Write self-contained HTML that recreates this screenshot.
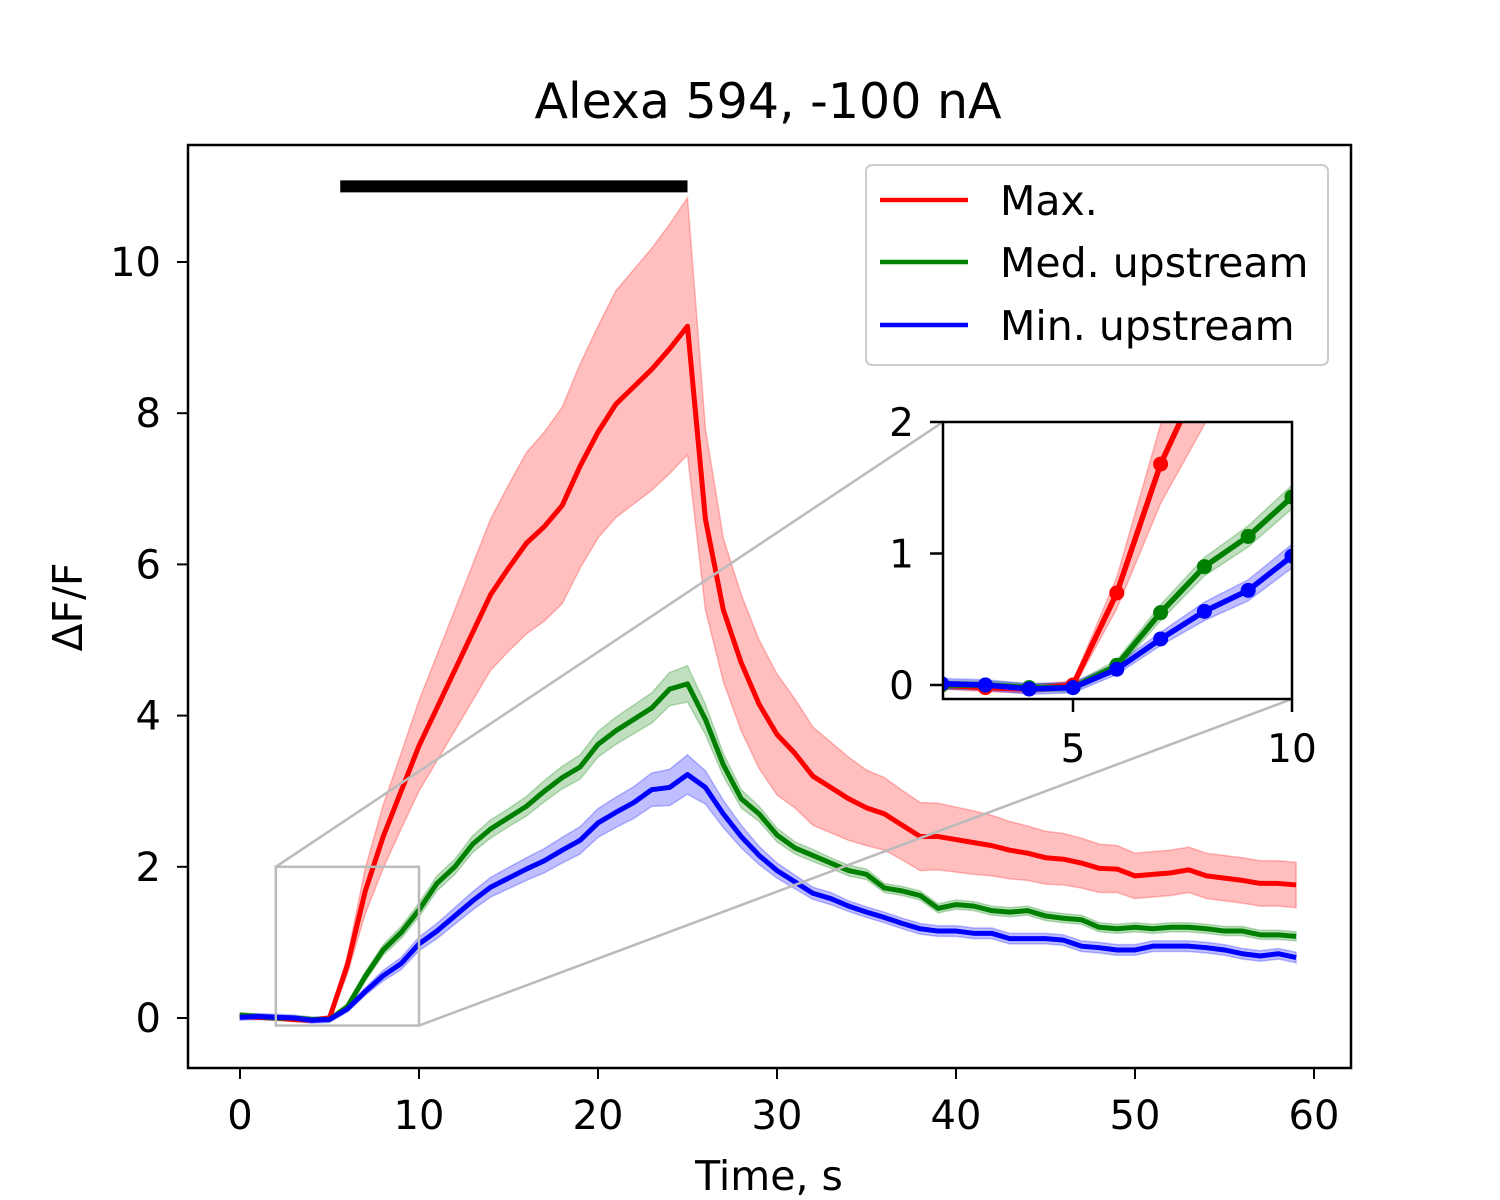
<!DOCTYPE html>
<html><head><meta charset="utf-8"><style>
html,body{margin:0;padding:0;background:#fff;}
svg{display:block;font-family:"DejaVu Sans","Liberation Sans",sans-serif;}
</style></head><body>
<svg id="chart" width="1500" height="1200" viewBox="0 0 1500 1200" xmlns="http://www.w3.org/2000/svg">
<rect width="1500" height="1200" fill="#fff"/>
<defs>
<clipPath id="mainClip"><rect x="188" y="145" width="1163" height="923"/></clipPath>
<clipPath id="insetClip"><rect x="943" y="422" width="349" height="277"/></clipPath>
</defs>
<text x="768" y="118" font-size="49" text-anchor="middle">Alexa 594, -100 nA</text>
<g id="main" clip-path="url(#mainClip)"></g>
<g id="mainAxes"></g>
<g id="connectors"></g>
<rect x="943" y="422" width="349" height="277" fill="#fff"/>
<g id="inset" clip-path="url(#insetClip)"></g>
<g id="insetAxes"></g>
<g id="legend">
<rect x="866" y="165" width="462" height="200" rx="6" fill="#fff" fill-opacity="0.8" stroke="#ccc" stroke-width="2"/>
<line x1="880" y1="200" x2="968" y2="200" stroke="#f00" stroke-width="4.5"/>
<text x="1000" y="215" font-size="41">Max.</text>
<line x1="880" y1="262" x2="968" y2="262" stroke="#008000" stroke-width="4.5"/>
<text x="1000" y="277" font-size="41">Med. upstream</text>
<line x1="880" y1="325" x2="968" y2="325" stroke="#00f" stroke-width="4.5"/>
<text x="1000" y="340" font-size="41">Min. upstream</text>
</g>
<text x="769" y="1190" font-size="41" text-anchor="middle">Time, s</text>
<text x="82" y="607" font-size="41" text-anchor="middle" transform="rotate(-90 82 607)">ΔF/F</text>
</svg>
<script>
const times = Array.from({length:60},(_,i)=>i);
const maxVals = [0.02,0.01,0,-0.02,-0.03,0,0.7,1.68,2.4,3.0,3.6,4.1,4.6,5.1,5.6,5.95,6.28,6.5,6.78,7.3,7.75,8.12,8.35,8.58,8.85,9.15,6.6,5.4,4.7,4.15,3.75,3.5,3.2,3.05,2.9,2.78,2.7,2.55,2.4,2.4,2.36,2.32,2.28,2.22,2.18,2.12,2.1,2.05,1.98,1.97,1.88,1.9,1.92,1.96,1.88,1.85,1.82,1.78,1.78,1.76];
const maxErr = [0.03,0.03,0.03,0.03,0.03,0.03,0.12,0.3,0.42,0.5,0.6,0.7,0.8,0.9,1.0,1.1,1.2,1.25,1.3,1.35,1.4,1.5,1.55,1.6,1.65,1.7,1.2,0.95,0.9,0.85,0.8,0.72,0.65,0.6,0.55,0.5,0.48,0.46,0.45,0.44,0.43,0.42,0.4,0.38,0.36,0.35,0.34,0.33,0.32,0.31,0.3,0.3,0.3,0.3,0.3,0.3,0.3,0.3,0.3,0.3];
const medVals = [0.04,0.02,0.0,0.0,-0.02,-0.02,0.15,0.55,0.9,1.13,1.43,1.78,2.0,2.3,2.5,2.65,2.8,3.0,3.18,3.32,3.62,3.8,3.95,4.1,4.35,4.42,3.95,3.35,2.9,2.7,2.42,2.25,2.15,2.05,1.95,1.9,1.72,1.68,1.62,1.45,1.5,1.48,1.42,1.4,1.42,1.35,1.32,1.3,1.2,1.18,1.2,1.18,1.2,1.2,1.18,1.15,1.15,1.1,1.1,1.08];
const medErr = [0.03,0.03,0.03,0.03,0.03,0.03,0.04,0.06,0.07,0.08,0.09,0.1,0.1,0.11,0.12,0.12,0.13,0.14,0.15,0.16,0.17,0.18,0.19,0.2,0.22,0.24,0.2,0.15,0.12,0.1,0.09,0.08,0.08,0.07,0.07,0.07,0.06,0.06,0.06,0.06,0.06,0.06,0.06,0.06,0.06,0.06,0.06,0.06,0.06,0.06,0.06,0.06,0.06,0.06,0.06,0.06,0.06,0.06,0.06,0.06];
const minVals = [0.01,0.02,0.01,0.0,-0.03,-0.02,0.12,0.35,0.56,0.72,0.98,1.15,1.35,1.55,1.73,1.85,1.97,2.08,2.22,2.35,2.58,2.72,2.85,3.02,3.05,3.22,3.05,2.7,2.4,2.15,1.95,1.8,1.65,1.58,1.48,1.4,1.33,1.25,1.18,1.15,1.15,1.12,1.12,1.05,1.05,1.05,1.03,0.95,0.93,0.9,0.9,0.95,0.95,0.95,0.93,0.9,0.85,0.82,0.85,0.8];
const minErr = [0.04,0.04,0.04,0.04,0.04,0.04,0.04,0.05,0.07,0.08,0.09,0.1,0.11,0.12,0.13,0.14,0.15,0.16,0.17,0.18,0.19,0.2,0.21,0.22,0.24,0.26,0.22,0.18,0.15,0.12,0.1,0.09,0.08,0.08,0.07,0.07,0.07,0.07,0.07,0.07,0.07,0.07,0.07,0.07,0.07,0.07,0.07,0.07,0.07,0.07,0.07,0.07,0.07,0.07,0.07,0.07,0.07,0.07,0.07,0.07];
const xTicks = [0,10,20,30,40,50,60];
const yTicks = [0,2,4,6,8,10];
const insetXTicks = [5,10];
const insetYTicks = [0,1,2];
const stimulus = [5.6,25.0,11.0];

const NS="http://www.w3.org/2000/svg";
function mk(tag,attrs,parent){const e=document.createElementNS(NS,tag);for(const k in attrs)e.setAttribute(k,attrs[k]);parent.appendChild(e);return e;}
const X=v=>240+v*17.9, Y=v=>1018-v*75.6;
const IX=v=>1073+(v-5)*43.8, IY=v=>685-v*131.5;
const series=[{v:maxVals,e:maxErr,c:"#ff0000",n:"max"},{v:medVals,e:medErr,c:"#008000",n:"med-upstream"},{v:minVals,e:minErr,c:"#0000ff",n:"min-upstream"}];

function draw(g,fx,fy,lw,markers){
  series.forEach(s=>{
    let up=times.map((t,i)=>fx(t)+","+fy(s.v[i]+s.e[i]));
    let lo=times.map((t,i)=>fx(t)+","+fy(s.v[i]-s.e[i])).reverse();
    const band=mk("polygon",{points:up.concat(lo).join(" "),fill:s.c,"fill-opacity":0.25,stroke:s.c,"stroke-opacity":0.25,"stroke-width":1.5},g);
    
    
  });
  series.forEach(s=>{
    const line=mk("polyline",{points:times.map((t,i)=>fx(t)+","+fy(s.v[i])).join(" "),fill:"none",stroke:s.c,"stroke-width":lw,"stroke-linejoin":"round"},g);
    
    
    if(markers){times.forEach((t,i)=>{if(t>=2&&t<=10){const p=mk("circle",{cx:fx(t),cy:fy(s.v[i]),r:7.5,fill:s.c},g);
      
      }});}
  });
}
const main=document.getElementById("main");
draw(main,X,Y,5,false);
const bar=mk("line",{x1:X(stimulus[0]),x2:X(stimulus[1]),y1:Y(stimulus[2]),y2:Y(stimulus[2]),stroke:"#000","stroke-width":12},main);



const ax=document.getElementById("mainAxes");
const frame=mk("rect",{x:188,y:145,width:1163,height:923,fill:"none",stroke:"#000","stroke-width":2.5},ax);


xTicks.forEach(t=>{mk("line",{x1:X(t),x2:X(t),y1:1068,y2:1079,stroke:"#000","stroke-width":2},ax);
  const tx=mk("text",{x:X(t),y:1129,"font-size":40,"text-anchor":"middle"},ax);tx.textContent=t;
  
  });
yTicks.forEach(t=>{mk("line",{x1:177,x2:188,y1:Y(t),y2:Y(t),stroke:"#000","stroke-width":2},ax);
  const tx=mk("text",{x:161,y:Y(t)+14,"font-size":40,"text-anchor":"end"},ax);tx.textContent=t;
  
  });

const con=document.getElementById("connectors");
const zr=mk("rect",{x:X(2),y:Y(2),width:X(10)-X(2),height:Y(-0.1)-Y(2),fill:"none",stroke:"#bbb","stroke-width":2.5},con);


const c1=mk("line",{x1:X(2),y1:Y(2),x2:943,y2:422,stroke:"#bbb","stroke-width":2.5},con);


const c2=mk("line",{x1:X(10),y1:Y(-0.1),x2:1292,y2:699,stroke:"#bbb","stroke-width":2.5},con);



const ins=document.getElementById("inset");
draw(ins,IX,IY,5.5,true);
const ia=document.getElementById("insetAxes");
const iframe=mk("rect",{x:943,y:422,width:349,height:277,fill:"none",stroke:"#000","stroke-width":2.5},ia);


insetXTicks.forEach(t=>{mk("line",{x1:IX(t),x2:IX(t),y1:699,y2:712,stroke:"#000","stroke-width":2.5},ia);
  const tx=mk("text",{x:IX(t),y:762,"font-size":39,"text-anchor":"middle"},ia);tx.textContent=t;
  
  });
insetYTicks.forEach(t=>{mk("line",{x1:930,x2:943,y1:IY(t),y2:IY(t),stroke:"#000","stroke-width":2.5},ia);
  const tx=mk("text",{x:914,y:IY(t)+14,"font-size":39,"text-anchor":"end"},ia);tx.textContent=t;
  
  });
</script>
</body></html>
